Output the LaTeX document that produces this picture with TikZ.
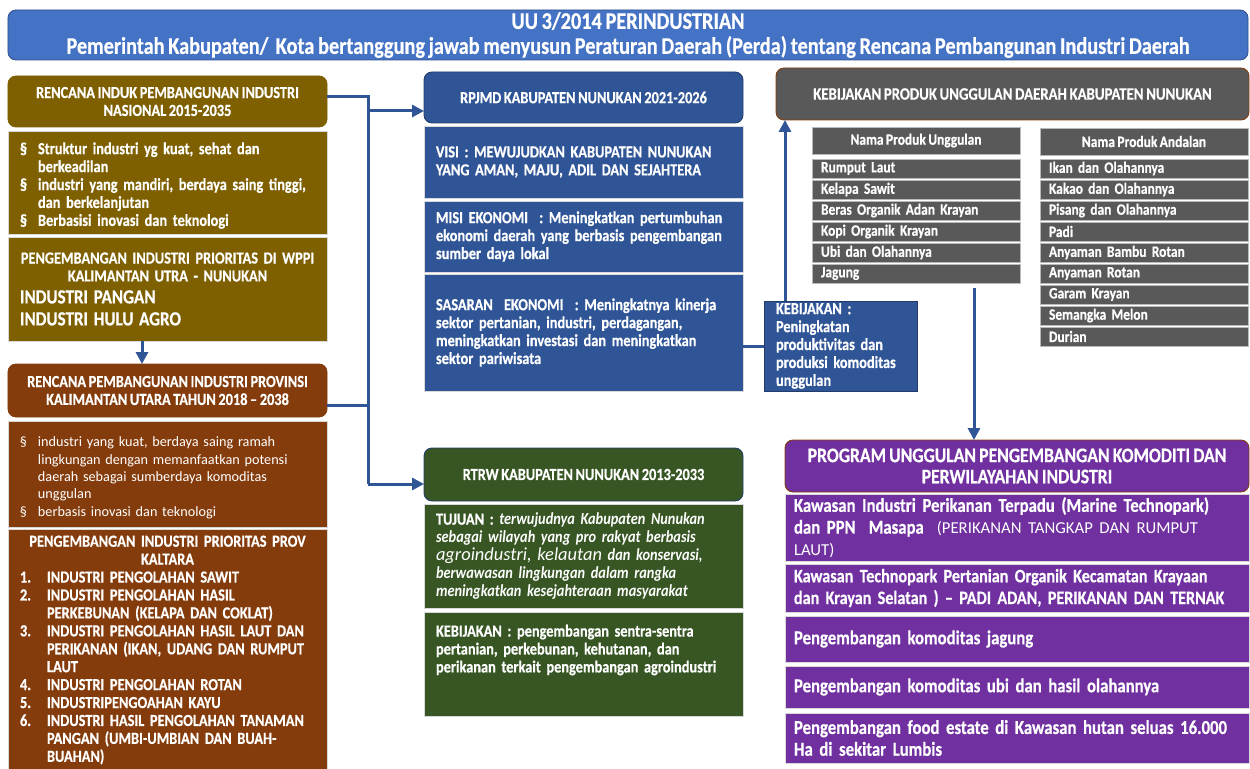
\documentclass[tikz,border=0pt]{standalone}
\usepackage{fontspec}
\setmainfont{Carlito}[FakeStretch=0.85, WordSpace=0.8, BoldFeatures={FakeBold=0.5}]
\newfontfamily\widefont{Carlito}
\usepackage{tikz}
\usetikzlibrary{arrows.meta, positioning, calc}
\hyphenpenalty=10000

\definecolor{lawblue}{HTML}{4472C4}
\definecolor{navy}{HTML}{2F5597}
\definecolor{olive}{HTML}{7F6000}
\definecolor{rust}{HTML}{843C0C}
\definecolor{forest}{HTML}{375623}
\definecolor{slate}{HTML}{595959}
\definecolor{plum}{HTML}{7030A0}

\newcommand{\secitem}[1]{\par\hangindent=3.6mm\hangafter=1\noindent\makebox[3.6mm][l]{\S}#1\par}
\newcommand{\numitem}[2]{\par\hangindent=5.4mm\hangafter=1\noindent\makebox[5.4mm][l]{#1.}#2\par}

\begin{document}
\begin{tikzpicture}[
    x=0.2mm, y=-0.2mm,
    font=\bfseries\fontsize{9.6}{10.2}\selectfont,
    base/.style={text=white, inner sep=0pt, outer sep=0pt},
    head/.style={base, rounded corners=1.6mm, align=center, line width=0.5pt},
    panel/.style={base, draw=white!85!black, line width=0.5pt, align=left, inner xsep=2.4mm},
    cell/.style={base, fill=slate, draw=gray!55, line width=0.4pt, font=\bfseries\fontsize{9}{9.2}\selectfont},
    link/.style={draw=navy, line width=0.6mm},
    flow/.style={link, -{Triangle[length=2.4mm, width=2.4mm]}},
]
\useasboundingbox (0,0) rectangle (1250,769);

% --- Top: the law everything hangs from ----------------------------------------
\node[head, fill=lawblue, draw=lawblue!70!black, minimum width=248mm, minimum height=10mm,
      font=\bfseries\fontsize{13.6}{14.2}\selectfont] (law) at (628,35)
    {UU 3/2014 PERINDUSTRIAN\\
     Pemerintah Kabupaten/\ \ Kota bertanggung jawab menyusun Peraturan Daerah (Perda) tentang Rencana Pembangunan Industri Daerah};

% --- Left column: national and provincial plans --------------------------------
\node[head, fill=olive, draw=olive, minimum width=63.8mm, minimum height=10.2mm] (ripin) at (167.5,101.5)
    {RENCANA INDUK PEMBANGUNAN INDUSTRI\\NASIONAL 2015-2035};
\node[panel, fill=olive, text width=59mm, minimum height=20.6mm] (ripinaim) at (167.5,182.5)
    {\secitem{Struktur industri yg kuat, sehat dan\newline berkeadilan}
     \secitem{industri yang mandiri, berdaya saing tinggi,\newline dan berkelanjutan}
     \secitem{Berbasisi inovasi dan teknologi}};
\node[panel, fill=olive, text width=59mm, minimum height=20.8mm] (wppi) at (167.5,289)
    {{\centering PENGEMBANGAN INDUSTRI PRIORITAS DI WPPI\\KALIMANTAN UTRA - NUNUKAN\par}
     {\fontsize{11.4}{12.5}\selectfont INDUSTRI PANGAN\\INDUSTRI HULU AGRO\par}};

\node[head, fill=rust, draw=rust, minimum width=63.8mm, minimum height=10.6mm] (rpip) at (167.5,390.5)
    {RENCANA PEMBANGUNAN INDUSTRI PROVINSI\\KALIMANTAN UTARA TAHUN 2018 -- 2038};
\node[panel, fill=rust, text width=59mm, minimum height=21.2mm,
      font=\widefont\mdseries\fontsize{8.1}{9.9}\selectfont] (rpipaim) at (167.5,474)
    {\secitem{industri yang kuat, berdaya saing ramah\newline lingkungan dengan memanfaatkan potensi\newline daerah sebagai sumberdaya komoditas\newline unggulan}
     \secitem{berbasis inovasi dan teknologi}};
\node[panel, fill=rust, text width=59mm, minimum height=48.4mm] (kaltara) at (167.5,650)
    {{\centering PENGEMBANGAN INDUSTRI PRIORITAS PROV\\KALTARA\par}
     \numitem{1}{INDUSTRI PENGOLAHAN SAWIT}
     \numitem{2}{INDUSTRI PENGOLAHAN HASIL\newline PERKEBUNAN (KELAPA DAN COKLAT)}
     \numitem{3}{INDUSTRI PENGOLAHAN HASIL LAUT DAN\newline PERIKANAN (IKAN, UDANG DAN RUMPUT\newline LAUT}
     \numitem{4}{INDUSTRI PENGOLAHAN ROTAN}
     \numitem{5}{INDUSTRIPENGOAHAN KAYU}
     \numitem{6}{INDUSTRI HASIL PENGOLAHAN TANAMAN\newline PANGAN (UMBI-UMBIAN DAN BUAH-\newline BUAHAN)}};

% --- Middle column: RPJMD and RTRW of the regency ------------------------------
\node[head, fill=navy, draw=navy!70!black, minimum width=63.8mm, minimum height=10.2mm] (rpjmd) at (583.5,97.5)
    {RPJMD KABUPATEN NUNUKAN 2021-2026};
\node[panel, fill=navy, text width=59mm, minimum height=14.4mm] (visi) at (583.5,162)
    {VISI : MEWUJUDKAN KABUPATEN NUNUKAN\\YANG AMAN, MAJU, ADIL DAN SEJAHTERA};
\node[panel, fill=navy, text width=59mm, minimum height=14.2mm] (misi) at (583.5,236.5)
    {MISI EKONOMI\ \ : Meningkatkan pertumbuhan\\ekonomi daerah yang berbasis pengembangan\\sumber daya lokal};
\node[panel, fill=navy, text width=59mm, minimum height=23.4mm] (sasaran) at (583.5,332.5)
    {SASARAN\ \ EKONOMI\ \ : Meningkatnya kinerja\\sektor pertanian, industri, perdagangan,\\meningkatkan investasi dan meningkatkan\\sektor pariwisata};

\node[head, fill=forest, draw=navy!70!black, minimum width=63.8mm, minimum height=10.6mm] (rtrw) at (583.5,474.5)
    {RTRW KABUPATEN NUNUKAN 2013-2033};
\node[panel, fill=forest, text width=59mm, minimum height=20.8mm] (tujuan) at (583.5,556)
    {TUJUAN\ : \textit{terwujudnya Kabupaten Nunukan}\\
     \textit{sebagai wilayah yang pro rakyat berbasis}\\
     {\widefont\mdseries\itshape\fontsize{10.5}{10.2}\selectfont agroindustri, kelautan} \textit{dan konservasi,}\\
     \textit{berwawasan lingkungan dalam rangka}\\
     \textit{meningkatkan kesejahteraan masyarakat}};
\node[panel, fill=forest, text width=59mm, minimum height=20.8mm] (arah) at (583.5,664)
    {KEBIJAKAN\ : pengembangan sentra-sentra\\pertanian, perkebunan, kehutanan, dan\\perikanan terkait pengembangan agroindustri\par\vspace*{5.6mm}};

\node[panel, fill=navy, draw=navy!70!black, text width=25.8mm, minimum height=18mm] (kebij) at (840.5,346)
    {KEBIJAKAN :\\Peningkatan\\produktivitas dan\\produksi komoditas\\unggulan};

% --- Right column: regional products and flagship programmes -------------------
\node[head, fill=slate, draw=rust, minimum width=94.6mm, minimum height=10.4mm,
      font=\bfseries\fontsize{9.9}{10.2}\selectfont] (pud) at (1012.5,94)
    {KEBIJAKAN PRODUK UNGGULAN DAERAH KABUPATEN NUNUKAN};

\node[cell, minimum width=41.6mm, minimum height=5.4mm] (unghead) at (916,140.5) {Nama Produk Unggulan};
\foreach \t [count=\i from 0] in {Rumput Laut, Kelapa Sawit, Beras Organik Adan Krayan,
                                  Kopi Organik Krayan, Ubi dan Olahannya, Jagung}
    \node[cell, minimum height=3.8mm, text width=38mm, inner xsep=1.8mm, align=left]
        (ung\i) at (916,{168.5+21*\i}) {\t};

\node[cell, minimum width=41.6mm, minimum height=5.4mm] (andhead) at (1144,141.5) {Nama Produk Andalan};
\foreach \t [count=\i from 0] in {Ikan dan Olahannya, Kakao dan Olahannya, Pisang dan Olahannya, Padi,
                                  Anyaman Bambu Rotan, Anyaman Rotan, Garam Krayan, Semangka Melon, Durian}
    \node[cell, minimum height=3.8mm, text width=38mm, inner xsep=1.8mm, align=left]
        (and\i) at (1144,{168.5+21*\i}) {\t};

\node[head, fill=plum, draw=rust, minimum width=92.8mm, minimum height=10.4mm,
      font=\bfseries\fontsize{11.8}{12}\selectfont] (prog) at (1017,466)
    {PROGRAM UNGGULAN PENGEMBANGAN KOMODITI DAN\\PERWILAYAHAN INDUSTRI};
\begin{scope}[every node/.append style={panel, fill=plum, text width=89.2mm, inner xsep=1.8mm,
              font=\bfseries\fontsize{11.2}{12.4}\selectfont}]
\node[minimum height=13.4mm] (marine) at (1017,527.5)
    {Kawasan Industri Perikanan Terpadu (Marine Technopark)\\dan PPN\ \ Masapa
     {\widefont\mdseries\fontsize{9.5}{12.4}\selectfont\ (PERIKANAN TANGKAP DAN RUMPUT\\LAUT)}};
\node[minimum height=9.6mm, font=\bfseries\fontsize{10.8}{12.4}\selectfont] (organik) at (1017,588)
    {Kawasan Technopark Pertanian Organik Kecamatan Krayaan\\dan Krayan Selatan ) -- PADI ADAN, PERIKANAN DAN TERNAK};
\node[minimum height=9.2mm] (jagung) at (1017,639) {Pengembangan komoditas jagung};
\node[minimum height=8.4mm] (ubi) at (1017,687) {Pengembangan komoditas ubi dan hasil olahannya};
\node[minimum height=10mm] (food) at (1017,738)
    {Pengembangan food estate di Kawasan hutan seluas 16.000\\Ha di sekitar Lumbis};
\end{scope}

% --- Connectors -----------------------------------------------------------------
\coordinate (bus) at (368,111);
\coordinate (busend) at (368,484);
\coordinate (drop) at (974,288);
\draw[link] ([yshift=1mm]ripin.east) -| (busend);
\draw[link] ([yshift=-2.9mm]rpip.east) -- ([yshift=-2.9mm]rpip.east -| bus);
\draw[flow] (bus) -- (bus -| rpjmd.west);
\draw[flow] (busend) -- (busend -| rtrw.west);
\draw[flow] ([xshift=-5.1mm]wppi.south) -- ([xshift=-5.1mm]rpip.north);
\draw[link] (sasaran.east |- kebij.west) -- (kebij.west);
\draw[flow] ([xshift=4.2mm]kebij.north west) -- ([xshift=4.2mm]kebij.north west |- pud.south);
\draw[flow] (drop) -- (drop |- prog.north);

\end{tikzpicture}
\end{document}
